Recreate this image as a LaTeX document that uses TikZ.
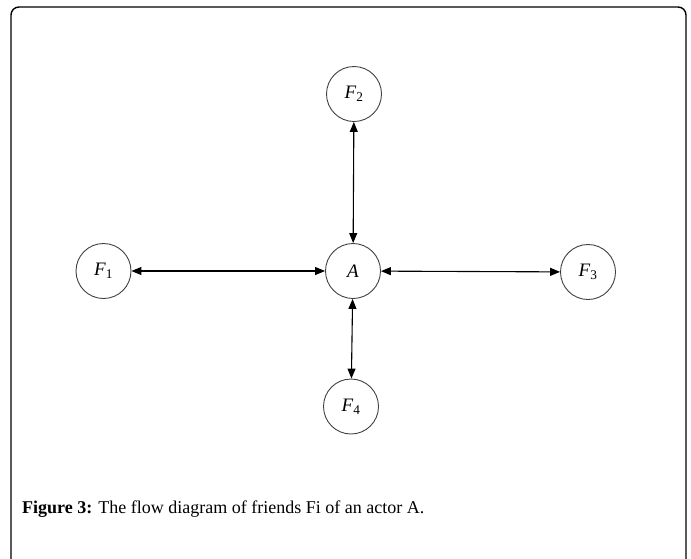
\documentclass[tikz,border=0pt]{standalone}
\usepackage{fontspec}
\setmainfont{Liberation Serif}
\usetikzlibrary{arrows.meta}
\begin{document}
\begin{tikzpicture}[x=1pt,y=-1pt,
  actor/.style={draw=black!75,line width=0.9pt,circle,minimum size=55pt,inner sep=0pt,font=\fontsize{19}{22}\selectfont},
  link/.style={line width=1.1pt,{Triangle[length=10pt,width=8pt]}-{Triangle[length=10pt,width=8pt]}}]
\useasboundingbox (0,0) rectangle (691,558);
\draw[line width=1.4pt,rounded corners=8pt] (11,580) -- (11,7) -- (686,7) -- (686,580);
\node[actor] (F2) at (354,94) {\textit{F}\textsubscript{2}};
\node[actor] (F1) at (103.5,271) {\textit{F}\textsubscript{1}};
\node[actor] (A) at (353,271) {\textit{A}};
\node[actor] (F3) at (588,272) {\textit{F}\textsubscript{3}};
\node[actor] (F4) at (351,406.5) {\textit{F}\textsubscript{4}};
\draw[link] (F1) -- (A);
\draw[link] (A) -- (F3);
\draw[link] (F2) -- (A);
\draw[link] (A) -- (F4);
\node[anchor=base west,inner sep=0pt,font=\fontsize{18}{21}\selectfont] (cap) at (22,513) {\textbf{Figure 3:} The flow diagram of friends Fi of an actor A.};
\end{tikzpicture}
\end{document}
